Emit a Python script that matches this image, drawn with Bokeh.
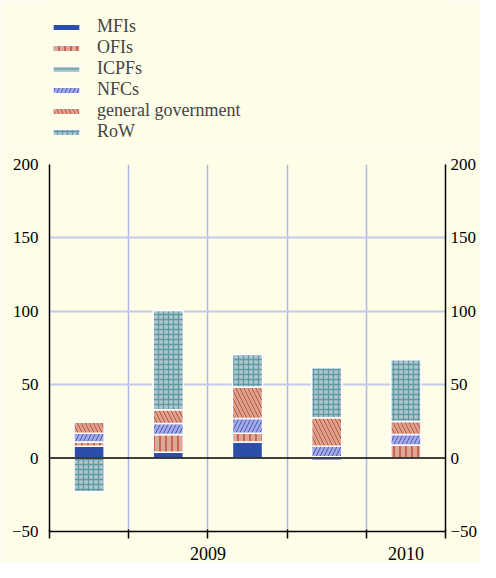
from bokeh.plotting import figure
from bokeh.layouts import column
from bokeh.models import (Range1d, FixedTicker, LinearAxis, Span, Legend,
                          LegendItem, ColumnDataSource)
from bokeh.embed import file_html
from bokeh.resources import INLINE

# ---- data ----
positions = [1, 2, 3, 4, 5]
MFIs = [8, 4, 11, -1.5, 0]
OFIs = [3, 12, 6, 1, 9]
ICPFs = [0, 0, 0, 0, 0]
NFCs = [6, 7.5, 10, 7, 7]
general_government = [7.5, 9.5, 21.5, 19.5, 9]
RoW = [-23, 67.5, 22, 34, 42]
year_ticks = [2.5, 5]
year_labels = ["2009", "2010"]
boundaries = [0.5, 1.5, 2.5, 3.5, 4.5, 5.5]
y_ticks = [-50, 0, 50, 100, 150, 200]

# name, values, fill, hatch, hatch colour, hatch spacing, hatch weight
series = [
    ("MFIs", MFIs, "#2C4EA8", None, "#2C4EA8", 6, 1),
    ("OFIs", OFIs, "#DDA996", "|", "#BE3526", 6, 1.2),
    ("ICPFs", ICPFs, "#B4C7CC", "-", "#5B98A3", 6, 1.2),
    ("NFCs", NFCs, "#A5ABE0", "/", "#3A52C4", 8, 0.9),
    ("general government", general_government, "#DBA48F", "\\", "#C04636", 8, 0.9),
    ("RoW", RoW, "#B2C6CC", "+", "#5E9AA6", 5, 1.3),
]

bg = "#FEFDE8"
font = "Liberation Serif"

def style(fill, hatch, hcol, hs, hw):
    kw = dict(fill_color=fill, line_color="white", line_width=1.5)
    if hatch:
        kw.update(hatch_pattern=hatch, hatch_color=hcol, hatch_scale=hs, hatch_weight=hw)
    return kw

# ---- legend figure ----
lg = figure(width=480, height=146, x_range=Range1d(0, 1), y_range=Range1d(0, 1),
            output_backend="svg", toolbar_location=None, x_axis_type=None, y_axis_type=None,
            background_fill_color=bg, border_fill_color=bg,
            outline_line_color=bg, outline_line_width=4,
            min_border=0)
lg.xgrid.visible = False
lg.ygrid.visible = False
items = []
for name, vals, fill, hatch, hcol, hs, hw in series:
    r = lg.vbar(x=[50], bottom=[50], top=[51], width=0.38, **style(fill, hatch, hcol, hs, hw))
    items.append(LegendItem(label=name, renderers=[r]))
legend = Legend(items=items, location=(0, 4), orientation="vertical",
                background_fill_alpha=0, border_line_color=None,
                label_text_font=font, label_text_font_size="18px",
                glyph_width=34, glyph_height=8, spacing=0, padding=0, margin=0,
                label_standoff=14, label_height=18)
lg.add_layout(legend)

# ---- main figure ----
p = figure(width=480, height=416, x_range=Range1d(0.5, 5.5), y_range=Range1d(-50, 200),
           output_backend="svg", toolbar_location=None,
           background_fill_color=bg, border_fill_color=bg, outline_line_color=None,
           min_border_left=49, min_border_right=32, min_border_top=18, min_border_bottom=0)

p.xgrid.ticker = FixedTicker(ticks=boundaries[1:-1])
p.xgrid.grid_line_color = "#B0B6EA"
p.xgrid.grid_line_width = 1.5
p.ygrid.ticker = FixedTicker(ticks=[50, 100, 150, 200])
p.ygrid.grid_line_color = "#C6CAEA"
p.ygrid.grid_line_width = 2

pos_base = [0.0] * 5
neg_base = [0.0] * 5
for name, vals, fill, hatch, hcol, hs, hw in series:
    bottoms, tops = [], []
    for i, v in enumerate(vals):
        if v >= 0:
            bottoms.append(pos_base[i]); tops.append(pos_base[i] + v); pos_base[i] += v
        else:
            bottoms.append(neg_base[i] + v); tops.append(neg_base[i]); neg_base[i] += v
    src = ColumnDataSource(dict(x=positions, bottom=bottoms, top=tops))
    p.vbar(x="x", bottom="bottom", top="top", width=0.38, source=src,
           **style(fill, hatch, hcol, hs, hw))

p.add_layout(Span(location=0, dimension="width", line_color="black", line_width=1.5))

p.yaxis.ticker = FixedTicker(ticks=y_ticks)
right = LinearAxis(ticker=FixedTicker(ticks=y_ticks))
p.add_layout(right, "right")
for ax in [p.yaxis[0], right]:
    ax.axis_line_color = "black"
    ax.axis_line_width = 1.5
    ax.major_tick_out = 0
    ax.major_tick_in = 0
    ax.minor_tick_out = 0
    ax.minor_tick_in = 0
    ax.major_label_text_font = font
    ax.major_label_text_font_size = "17px"
    ax.major_label_text_color = "black"
p.yaxis[0].major_label_standoff = 11
right.major_label_standoff = 5

xa = p.xaxis[0]
xa.ticker = FixedTicker(ticks=year_ticks, minor_ticks=boundaries)
xa.major_label_overrides = {t: l for t, l in zip(year_ticks, year_labels)}
xa.major_tick_out = 0
xa.major_tick_in = 0
xa.minor_tick_out = 7
xa.minor_tick_in = 2
xa.minor_tick_line_color = "black"
xa.minor_tick_line_width = 1.5
xa.axis_line_color = "black"
xa.axis_line_width = 1.5
xa.major_label_standoff = 8
xa.major_label_text_font = font
xa.major_label_text_font_size = "18px"
xa.major_label_text_color = "black"

layout = column(lg, p, spacing=0)
open("out.html", "w").write(file_html(layout, INLINE))
